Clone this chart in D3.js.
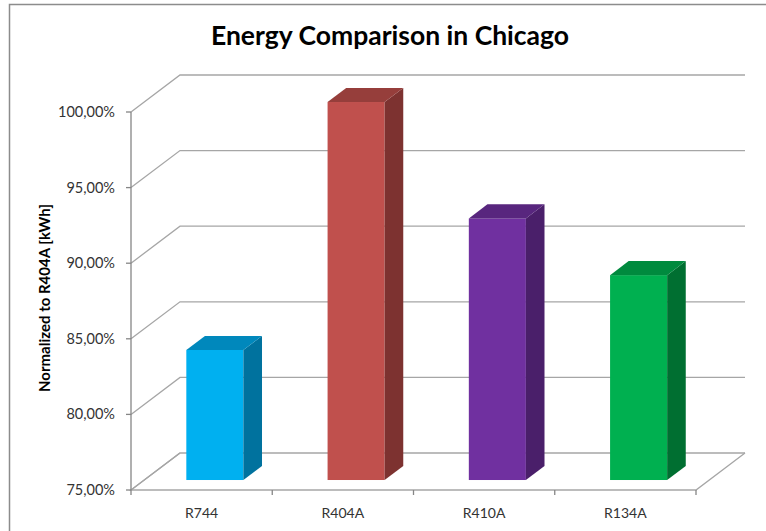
<!DOCTYPE html>
<html>
<head>
<meta charset="utf-8">
<script src="https://cdn.jsdelivr.net/npm/d3@7"></script>
<style>
  body { margin: 0; background: #fff; }
  svg { display: block; }
  text { font-family: Lato, "Open Sans", sans-serif; }
</style>
</head>
<body>
<div id="chart"></div>
<script>
var categories = ['R744', 'R404A', 'R410A', 'R134A'];
var values = [83.6, 100.0, 92.3, 88.55];
var yTicks = [75, 80, 85, 90, 95, 100];
var frontColors = ['#00B0F0', '#C0504D', '#7030A0', '#00B050'];
var topColors = ['#0088BC', '#963E3B', '#58267E', '#008A3E'];
var sideColors = ['#00729E', '#7D3230', '#4A1F6A', '#006F31'];

var width = 766, height = 531;
var depthX = 49, depthY = -37;       // full depth of the 3d box
var barFront = 0.27, barBack = 0.65; // where the bars sit in that depth

var svg = d3.select('#chart').append('svg')
    .attr('width', width).attr('height', height);

// chart border (runs off the picture right and bottom)
svg.append('path')
    .attr('d', 'M9.5,531 L9.5,4.5 L766,4.5')
    .attr('fill', 'none').attr('stroke', '#8c8c8c').attr('stroke-width', 1.5);

var x = d3.scaleBand().domain(categories).range([131, 696]).paddingInner(0.596).paddingOuter(0.298);
var y = d3.scaleLinear().domain([75, 100]).range([490, 112]);

var grid = svg.append('g').attr('stroke', '#a6a6a6').attr('stroke-width', 1.3).attr('fill', 'none');

/*back wall gridlines + left side wall*/
yTicks.forEach(function(t) {
    grid.append('path').attr('d',
        'M131,' + y(t) + ' L' + (131 + depthX) + ',' + (y(t) + depthY) +
        ' L' + (696 + depthX) + ',' + (y(t) + depthY));
});
/*floor*/
grid.append('path').attr('d',
    'M' + (131 + depthX) + ',' + (y(75) + depthY) + ' L131,' + y(75) + ' L696,' + y(75) +
    ' L' + (696 + depthX) + ',' + (y(75) + depthY));

/*front axes*/
var axisG = svg.append('g').attr('stroke', '#868686').attr('stroke-width', 1.3).attr('fill', 'none');
axisG.append('line').attr('x1', 131).attr('x2', 131).attr('y1', y(100)).attr('y2', y(75));
yTicks.forEach(function(t) {
    axisG.append('line').attr('x1', 126).attr('x2', 131).attr('y1', y(t)).attr('y2', y(t));
});
var catEdges = categories.map(function(c) { return x(c) - x.step() * x.paddingInner() / 2; });
catEdges.push(696);
catEdges.forEach(function(e) {
    axisG.append('line').attr('x1', e).attr('x2', e).attr('y1', y(75)).attr('y2', y(75) + 5);
});

/*y tick labels*/
svg.append('g').selectAll('text').data(yTicks).enter().append('text')
    .attr('x', 115).attr('y', function(d) { return y(d); })
    .attr('dy', '0.35em').attr('text-anchor', 'end')
    .attr('font-size', 14.5).attr('fill', '#333')
    .text(function(d) { return d.toFixed(2).replace('.', ',') + '%'; });

/*category labels*/
svg.append('g').selectAll('text').data(categories).enter().append('text')
    .attr('x', function(d) { return x(d) + x.bandwidth() / 2; })
    .attr('y', 513).attr('dy', '0.35em').attr('text-anchor', 'middle')
    .attr('font-size', 14).attr('fill', '#333')
    .text(function(d) { return d; });

/*bars*/
var fx = depthX * barFront, fy = depthY * barFront;
var bx = depthX * (barBack - barFront), by = depthY * (barBack - barFront);
categories.forEach(function(c, i) {
    var x0 = x(c) + fx, x1 = x0 + x.bandwidth();
    var yb = y(75) + fy, yt = y(values[i]) + fy;
    var g = svg.append('g');
    g.append('rect').attr('x', x0).attr('y', yt).attr('width', x1 - x0).attr('height', yb - yt)
        .attr('fill', frontColors[i]);
    g.append('polygon').attr('points', [[x1, yb], [x1, yt], [x1 + bx, yt + by], [x1 + bx, yb + by]].join(' '))
        .attr('fill', sideColors[i]);
    g.append('polygon').attr('points', [[x0, yt], [x1, yt], [x1 + bx, yt + by], [x0 + bx, yt + by]].join(' '))
        .attr('fill', topColors[i]);
});

/*titles*/
svg.append('text').attr('x', 390).attr('y', 36).attr('dy', '0.35em')
    .attr('text-anchor', 'middle').attr('font-size', 26.5).attr('font-weight', 'bold')
    .attr('fill', '#000').text('Energy Comparison in Chicago');

svg.append('text').attr('transform', 'translate(45,298) rotate(-90)')
    .attr('dy', '0.35em').attr('text-anchor', 'middle')
    .attr('font-size', 15).attr('font-weight', 'bold').attr('fill', '#000')
    .text('Normalized to R404A [kWh]');
</script>
</body>
</html>
